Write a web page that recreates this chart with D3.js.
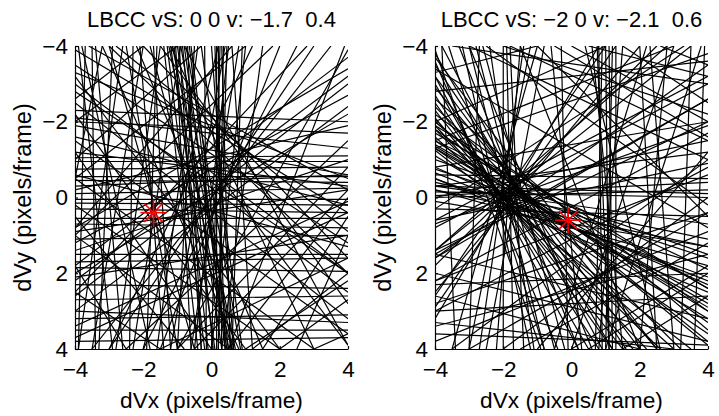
<!DOCTYPE html>
<html>
<head>
<meta charset="utf-8">
<script src="https://cdn.jsdelivr.net/npm/d3@7"></script>
<style>
  body { margin: 0; background: #fff; }
  text { font-family: "Liberation Sans", Arial, Helvetica, sans-serif; fill: #000; white-space: pre; }
</style>
</head>
<body>
<div id="chart"></div>
<script>
// Size of the picture
var svgWidth = 719;
var svgHeight = 416;

// Ticks and labels
var tickValues = [-4, -2, 0, 2, 4];
var titles = ["LBCC vS: 0 0 v: \u22121.7  0.4", "LBCC vS: \u22122 0 v: \u22122.1  0.6"];
var xLabel = "dVx (pixels/frame)";
var yLabel = "dVy (pixels/frame)";

// Red star, one per panel (v - vS)
var stars = [[-1.7, 0.4], [-0.1, 0.6]];

// Constraint lines, [x1, y1, x2, y2] in pixels/frame
var leftLines = [
  // near vertical bundle
  [-1.0, -4, 0.3, 4], [-0.9, -4, 0.6, 4], [-1.1, -4, -0.1, 4], [-0.8, -4, 0.45, 4],
  [-1.2, -4, 0.1, 4], [0.2, -4, 0.3, 4], [0.3, -4, 0.55, 4], [0.1, -4, 0.4, 4],
  [0.25, -4, 0.0, 4], [-0.6, -4, 0.5, 4], [-1.3, -4, -0.2, 4], [0.35, -4, 0.2, 4],
  [-0.7, -4, -0.3, 4], [0.5, -4, -0.5, 4], [0.4, -4, -1.2, 4], [0.2, -4, -2.0, 4],
  [-0.5, -4, -1.0, 4], [-0.3, -4, 0.9, 4], [-1.05, -4, -0.6, 4], [0.15, -4, 0.15, 4],
  [-1.15, -4, 0.7, 4], [-0.95, -4, -0.3, 4], [-0.85, -4, 0.05, 4], [-1.25, -4, 0.5, 4],
  [-0.75, -4, 0.85, 4], [0.45, -4, 0.2, 4], [0.0, -4, 0.65, 4], [-0.2, -4, -0.15, 4],
  [-1.4, -4, -0.4, 4], [-0.65, -4, 0.4, 4],
  // almost horizontal
  [-4, -2.1, 4, -1.3], [-4, -1.9, 4, -0.6], [-4, -2.0, 4, -1.7], [-4, -0.95, 4, -0.95],
  [-4, -0.75, 4, -0.8], [-4, -0.55, 4, -0.55], [-4, -0.3, 4, -0.6], [-4, 0.05, 4, 0.05],
  [-4, 0.3, 4, 0.4], [-4, 0.7, 4, 0.8], [-4, 1.5, 4, 1.5], [-4, 1.7, 4, 1.6],
  [-4, 2.3, 4, 2.4], [-4, 3.2, 4, 3.1], [-4, 3.5, 4, 3.5], [-4, -1.2, 4, -0.3],
  [-4, -0.6, 4, 1.3], [-4, 0.9, 4, -0.2], [-4, -1.6, 4, 0.2], [-4, 2.1, 4, 1.0],
  [-4, -2.3, 4, -2.0], [-4, -1.05, 4, -1.1], [-4, -0.45, 4, -0.4], [-4, 0.55, 4, 0.55],
  [-4, 1.1, 4, 1.0], [-4, 1.85, 4, 1.95], [-4, 2.7, 4, 2.6], [-4, 0.15, 4, 0.2],
  [-4, -0.1, 4, -0.25], [-4, 3.0, 4, 3.3], [-4, 3.8, 4, 3.7],
  // upper right to lower left
  [4, -3.7, -4, 1.8], [4, -3.4, -4, 0.8], [4, -3.0, -4, 2.6], [4, -2.7, -4, 1.2],
  [4, -2.4, -4, 3.0], [4, -1.9, -4, -0.2], [4, -1.5, -2.5, 4], [4, -3.9, -1.0, 4],
  [3.0, -4, -3.0, 4], [2.5, -4, -2.0, 4], [1.8, -4, -4, 1.0], [2.0, -4, -1.5, 4],
  [1.2, -4, -3.0, 4], [3.9, -4, 0.5, 4], [4, 0.5, 1.5, 4], [4, 1.0, 2.5, 4],
  [4, -0.2, -0.5, 4], [4, 2.2, 1.0, 4], [4, -3.2, -4, 2.2], [4, -2.2, -4, 2.0],
  [4, -1.0, -4, 1.4], [4, 0.1, -4, 3.4], [2.8, -4, -4, 2.5], [3.5, -4, -3.5, 4],
  [1.0, -4, -4, -0.5], [0.6, -4, -4, 0.8], [-0.3, -4, -4, -1.0], [-1.0, -4, -4, -2.0],
  [-2.0, -4, -4, -2.6], [4, 1.6, -1.5, 4], [4, 2.7, 2.0, 4], [4, 0.4, -4, 3.7],
  [-1.0, 4, 4, -0.8], [0.5, 4, 4, 0.0], [1.2, 4, 4, 2.0],
  // upper left to lower right
  [-4, -3.9, 4, 0.4], [-4, -3.5, 4, 1.2], [-4, -3.0, 4, 2.5], [-4, -2.5, 4, 3.2],
  [-4, -1.5, 4, 3.6], [-4, -0.5, 3.0, 4], [-4, 0.2, 2.0, 4], [-4, 1.0, 0.5, 4],
  [-4, 2.5, -1.5, 4], [-3.6, -4, 4, -0.2], [-2.8, -4, 4, 0.9], [-1.5, -4, 4, 2.8],
  [-0.8, -4, 4, 3.9], [-2.2, -4, 1.5, 4], [-3.0, -4, -0.5, 4], [-3.8, -4, -1.8, 4],
  [-3.4, -4, -2.6, 4], [-2.5, -4, -1.0, 4], [-1.8, -4, 0.6, 4], [-3.2, -4, 0.8, 4],
  [0.3, -0.5, 4, 3.9], [-0.5, -1.0, 4, 2.0], [-4, -3.2, 2.0, 4], [-4, -2.2, 1.0, 4],
  [-4, -1.2, 0.0, 4], [-4, 0.5, -0.8, 4], [-4, 1.8, -2.5, 4], [-3.0, -4, 4, 2.0],
  [-2.0, -4, 4, 1.6], [-1.2, -4, 3.0, 4], [-4, -2.8, 4, 2.0], [-4, -3.3, 4, -0.5],
  [3.0, 4, 4, 3.6],
  // steep, top to lower left
  [-2.0, -4, -3.5, 4], [-1.5, -4, -2.8, 4], [-2.6, -4, -3.9, 4], [-0.9, -4, -2.3, 4],
  [0.8, -4, -0.6, 4], [1.0, -4, 0.0, 4], [-3.2, -4, -4, -0.5], [1.5, -4, 0.3, 4],
  [-3.5, -4, -3.4, 4], [-2.3, -4, -2.4, 4], [-1.6, -4, -1.9, 4], [-3.9, -4, -2.9, 4],
  [-2.9, -4, -3.3, 4], [-2.1, -4, -1.4, 4], [-1.7, -4, -1.2, 4], [-0.4, -4, -1.6, 4],
  [0.6, -4, 1.2, 4], [0.9, -4, 0.6, 4], [-3.7, -4, -3.9, 4]
];

var rightLines = [
  // bundle crossing around (-1.8, -0.1)
  [-4, -1.4, 4, 2.7], [-4, -1.7, 4, 2.4], [-4, -0.5, 4, 2.1], [-4, -1.3, 4, 2.8],
  [-4, -0.2, 4, 1.8], [-4, -1.0, 4, 1.5], [-4, -1.6, 3.0, 4], [-4, -1.9, 2.2, 4],
  [-4, -2.3, 1.5, 4], [-4, -2.7, 0.8, 4], [-4, -3.2, 0.2, 4], [-4, -3.6, -0.4, 4],
  [-4, -3.9, -0.9, 4], [-3.6, -4, -0.8, 4], [-3.2, -4, -1.2, 4], [-4, -0.4, 4, 1.1],
  [-4, -0.3, 4, 0.7], [-4, -0.15, 4, 0.0], [-4, -0.05, 4, -0.4], [-4, 0.6, 4, -0.9],
  [-4, 0.0, 4, -1.5], [-4, 1.4, 4, -2.0], [-4, 0.8, 4, -3.0], [-4, 1.4, 3.5, -4],
  [-4, 2.5, 2.0, -4], [-4, 3.2, 0.8, -4], [-3.0, 4, -1.2, -4], [-2.5, 4, -0.8, -4],
  [-2.0, 4, -2.0, -4], [-1.4, 4, -1.8, -4], [-0.8, 4, -3.0, -4], [-0.2, 4, -2.6, -4],
  [0.6, 4, -3.0, -4], [1.2, 4, -4, -3.8], [2.0, 4, -4, -3.2], [4, 3.5, -4, -2.6],
  [4, 3.0, -4, -2.2], [4, 3.3, -4, -1.8], [-4, -1.1, 4, 3.2], [-4, -0.8, 4, 2.3],
  [-4, -1.3, 4, 3.6], [-4, -0.5, 4, 2.5], [-4, -2.0, 4, 3.9], [-4, -0.2, 4, 1.3],
  [-4, -1.5, 4, 3.0], [-4, -1.5, 4, 1.9], [-4, -0.65, 4, 2.2], [-4, -1.25, 3.5, 4],
  [-4, -1.8, 2.6, 4], [-4, -2.1, 1.8, 4], [-4, -0.75, 4, 1.6], [-4, -1.9, 4, 2.4],
  [-4, 0.1, 4, 1.3], [-4, -1.35, 4, 2.9], [-4, -2.5, 1.2, 4], [-4, -3.0, 0.5, 4],
  [-4, 0.0, 4, -0.2], [-4, -0.3, 4, -1.2], [-4, 0.7, 4, -1.9], [-4, 1.6, 4, -2.6],
  [-4, 1.6, 4, -3.5], [-4, 1.4, 2.8, -4], [-4, 2.9, 1.3, -4],
  [-3.5, 4, -1.0, -4], [-2.7, 4, -1.4, -4], [-2.2, 4, -1.5, -4], [-1.7, 4, -1.9, -4],
  [-1.1, 4, -2.4, -4], [-0.5, 4, -2.8, -4], [0.2, 4, -3.3, -4], [0.9, 4, -3.8, -4],
  [1.6, 4, -4, -3.5], [2.5, 4, -4, -2.9], [3.2, 4, -4, -2.4], [4, 3.8, -4, -2.0],
  // near vertical
  [0.8, -4, 0.9, 4], [1.1, -4, 1.2, 4], [1.2, -4, 1.0, 4], [0.6, -4, 1.5, 4],
  [1.5, -4, 0.8, 4], [-0.3, -4, -0.1, 4], [2.0, -4, 2.5, 4], [2.8, -4, 2.0, 4],
  [-2.7, -4, -3.0, 4], [3.5, -4, 3.2, 4], [1.0, -4, 1.1, 4], [0.9, -4, 0.7, 4],
  [0.75, -4, 1.1, 4], [1.3, -4, 1.3, 4], [-0.6, -4, 0.3, 4], [2.3, -4, 3.0, 4],
  [3.9, -4, 3.6, 4], [-3.8, -4, -3.4, 4],
  // upper part
  [-3.0, -4, 4, -1.0], [-2.0, -4, 4, -2.2], [-1.0, -4, 4, 0.5], [0.0, -4, 4, -2.0],
  [-4, -2.8, 4, -3.6], [1.5, -4, 4, -2.5], [-4, -2.0, 1.0, -4], [-4, -1.5, 3.0, -4],
  [2.2, -4, -0.5, 4], [3.0, -4, 0.0, 4], [3.8, -4, 1.0, 4], [4, -3.2, -4, 0.6],
  [4, -2.6, -4, 1.5], [4, -1.7, -4, 2.2], [4, -0.8, -4, 3.0], [4, -1.2, -1.0, 4],
  [-0.5, -4, 4, -1.6], [0.4, -4, 2.6, 4], [-1.5, -4, 2.0, 4], [-4, -3.4, 4, 0.8],
  [-4, -3.7, 2.5, 4], [-3.5, -4, 4, -3.0], [-2.5, -4, 4, 0.2], [-1.8, -4, 4, -1.5],
  [0.5, -4, 4, -3.2], [2.6, -4, 4, -3.5], [-4, -3.3, -1.0, -4], [1.0, -4, -4, 2.6],
  [2.5, -4, -4, 1.8], [3.3, -4, -4, 0.3], [4, -3.8, -4, -1.3], [4, -2.0, -4, -0.8],
  [4, -0.5, -4, -0.6], [4, -0.1, -4, -0.3], [4, 0.5, -4, 0.3],
  // lower part
  [-4, 2.0, 4, 3.8], [-4, 3.0, 4, 2.6], [-4, 3.6, 4, 3.9], [-4, 2.6, 2.0, 4],
  [-4, 1.5, 4, 3.2], [4, 2.0, 0.5, 4], [4, 1.2, -1.5, 4], [4, 0.4, -3.0, 4],
  [-4, 3.8, 4, 0.9], [-4, 3.4, 4, 1.5], [-4, 2.2, 4, -0.6], [-4, 2.8, 4, 0.4],
  [-4, 2.3, 4, 2.0], [-4, 3.3, 3.0, 4], [0.0, 4, 4, 1.8], [1.5, 4, 4, 2.6],
  [-2.0, 4, 4, 0.0], [-3.5, 4, 4, -1.0]
];

// Panel layout
var panelLeft = [75, 435];
var panelWidth = 273;
var panelTop = 46;
var panelHeight = 303;

var svg = d3.select("#chart")
  .append("svg")
  .attr("width", svgWidth)
  .attr("height", svgHeight);

var panels = [
  { left: panelLeft[0], lines: leftLines, title: titles[0], star: stars[0] },
  { left: panelLeft[1], lines: rightLines, title: titles[1], star: stars[1] }
];

var fmt = function (d) { return d < 0 ? "\u2212" + Math.abs(d) : String(d); };

panels.forEach(function (p, i) {
  var xScale = d3.scaleLinear().domain([-4, 4]).range([p.left, p.left + panelWidth]);
  var yScale = d3.scaleLinear().domain([-4, 4]).range([panelTop, panelTop + panelHeight]);

  // clip to the axes box
  svg.append("clipPath")
    .attr("id", "clip" + i)
    .append("rect")
    .attr("x", p.left)
    .attr("y", panelTop)
    .attr("width", panelWidth)
    .attr("height", panelHeight);

  var plot = svg.append("g").attr("clip-path", "url(#clip" + i + ")");

  plot.selectAll("line.c")
    .data(p.lines)
    .enter()
    .append("line")
    .attr("class", "c")
    .attr("x1", d => xScale(d[0]))
    .attr("y1", d => yScale(d[1]))
    .attr("x2", d => xScale(d[2]))
    .attr("y2", d => yScale(d[3]))
    .attr("stroke", "#000")
    .attr("stroke-width", 1.2);

  // red asterisk marker
  var sx = xScale(p.star[0]), sy = yScale(p.star[1]);
  var arm = 13, dg = arm * Math.SQRT1_2;
  var arms = [[-arm, 0, arm, 0], [0, -arm, 0, arm], [-dg, -dg, dg, dg], [-dg, dg, dg, -dg]];
  svg.append("g").selectAll("line")
    .data(arms)
    .enter()
    .append("line")
    .attr("x1", d => sx + d[0])
    .attr("y1", d => sy + d[1])
    .attr("x2", d => sx + d[2])
    .attr("y2", d => sy + d[3])
    .attr("stroke", "#ff0000")
    .attr("stroke-width", 1.6);

  // axes
  var bottomAxis = d3.axisBottom(xScale)
    .tickValues(tickValues)
    .tickFormat(fmt)
    .tickSizeInner(-3)
    .tickSizeOuter(0)
    .tickPadding(12);
  var leftAxis = d3.axisLeft(yScale)
    .tickValues(tickValues)
    .tickFormat(fmt)
    .tickSizeInner(-3)
    .tickSizeOuter(0)
    .tickPadding(7);

  var gx = svg.append("g")
    .attr("transform", `translate(0, ${panelTop + panelHeight})`)
    .call(bottomAxis);
  var gy = svg.append("g")
    .attr("transform", `translate(${p.left}, 0)`)
    .call(leftAxis);

  [gx, gy].forEach(function (g) {
    g.selectAll("path, line").attr("stroke", "#000").attr("stroke-width", 1.2);
    g.selectAll("text")
      .style("font-family", "'Liberation Sans', Arial, sans-serif")
      .style("font-size", "22.5px")
      .attr("fill", "#000");
  });

  // title
  svg.append("text")
    .attr("x", p.left + panelWidth / 2)
    .attr("y", 27)
    .attr("text-anchor", "middle")
    .style("font-size", "22px")
    .text(p.title);

  // axis labels
  svg.append("text")
    .attr("x", p.left + panelWidth / 2)
    .attr("y", 408)
    .attr("text-anchor", "middle")
    .style("font-size", "22.7px")
    .text(xLabel);

  svg.append("text")
    .attr("transform", `translate(${p.left - 44}, ${panelTop + panelHeight / 2}) rotate(-90)`)
    .attr("text-anchor", "middle")
    .style("font-size", "23.5px")
    .text(yLabel);
});
</script>
</body>
</html>
